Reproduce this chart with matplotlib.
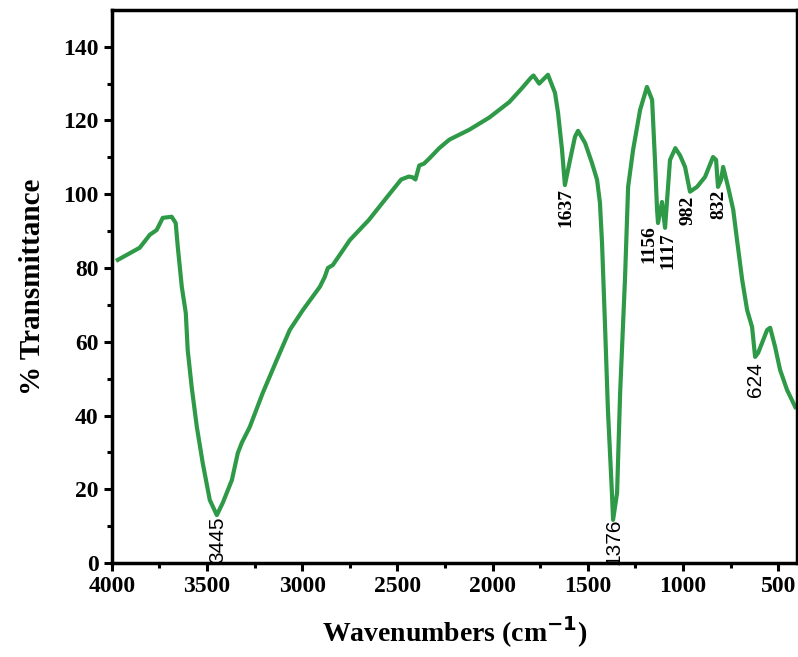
import matplotlib.pyplot as plt

# FTIR spectrum
wavenumber = [3968, 3853, 3800, 3764, 3732, 3685, 3664, 3653, 3632, 3611, 3601,
              3580, 3553, 3522, 3485, 3448, 3417, 3369, 3338, 3317, 3275, 3207,
              3133, 3065, 2996, 2907, 2881, 2865, 2839, 2749, 2650, 2550, 2480,
              2440, 2420, 2405, 2385, 2360, 2330, 2280, 2227, 2122, 2017, 1912,
              1850, 1800, 1785, 1755, 1740, 1709, 1672, 1656, 1635, 1620, 1593,
              1567, 1551, 1514, 1478, 1451, 1436, 1425, 1409, 1394, 1373, 1367,
              1346, 1330, 1304, 1288, 1262, 1225, 1189, 1162, 1147, 1136, 1131,
              1110, 1094, 1068, 1040, 1015, 989, 963, 926, 884, 842, 826,
              816, 800, 789, 763, 736, 716, 689, 663, 637, 621, 605,
              558, 542, 516, 490, 453, 410]
transmittance = [82.2, 85.5, 89.0, 90.3, 93.6, 93.9, 92.2, 85.7, 74.9, 67.8, 57.8,
                 47.7, 36.9, 27.1, 17.1, 13.0, 16.3, 22.5, 29.8, 32.6, 36.9, 46.1,
                 55.1, 63.2, 68.6, 74.9, 77.6, 80.0, 80.8, 87.6, 93.0, 99.5, 104.0,
                 104.8, 104.6, 104.0, 107.8, 108.3, 109.8, 112.5, 114.8, 117.5, 120.8, 125.0,
                 128.5, 131.5, 132.2, 130.0, 130.8, 132.4, 127.5, 122.1, 112.0, 102.5, 109.3,
                 115.6, 117.2, 113.9, 108.5, 103.9, 97.7, 86.8, 64.0, 41.5, 19.0, 11.7,
                 19.0, 46.1, 77.6, 102.0, 112.0, 122.9, 129.1, 125.6, 109.3, 95.8, 92.2,
                 97.9, 90.9, 109.3, 112.5, 110.5, 107.4, 100.7, 102.0, 104.7, 110.1, 109.3,
                 102.0, 103.9, 107.4, 102.0, 95.8, 87.6, 76.8, 68.6, 64.0, 55.9, 57.0,
                 63.2, 63.8, 58.6, 52.4, 46.9, 42.3]

# peak labels: text, x, y of text top
peaks_serif = [("1637", 1614, 101.7), ("1156", 1180, 91.7), ("1117", 1080, 89.8),
               ("982", 973, 99.5), ("832", 810, 101.2)]
peaks_sans = [("3445", 3443, 12.7), ("1376", 1362, 12.0), ("624", 621, 54.5)]

plt.rcParams['font.family'] = 'Liberation Serif'
plt.rcParams['font.weight'] = 'bold'

fig = plt.figure(figsize=(7.98, 6.57), dpi=100)
ax = fig.add_axes([0.140, 0.143, 0.859, 0.842])

ax.plot(wavenumber, transmittance, color='#2e9a48', linewidth=3.0)

for txt, x, y in peaks_serif:
    ax.text(x, y, txt, rotation=90, ha='center', va='top', fontsize=14, fontweight='bold')
for txt, x, y in peaks_sans:
    ax.text(x, y, txt, rotation=90, ha='center', va='top', fontsize=15,
            family='Liberation Sans', fontweight='normal', clip_on=False)

ax.set_xlim(4000, 400)
ax.set_ylim(0, 150)
ax.set_xticks([4000, 3500, 3000, 2500, 2000, 1500, 1000, 500])
ax.set_xticks(range(3750, 400, -500), minor=True)
ax.set_yticks(range(0, 141, 20))
ax.set_yticks(range(10, 150, 20), minor=True)

ax.tick_params(which='major', direction='out', length=6, width=2.2, labelsize=17)
ax.tick_params(which='minor', direction='out', length=3.5, width=2.2)
for s in ax.spines.values():
    s.set_linewidth(2.5)

ax.set_xlabel('Wavenumbers (cm$^{\\mathbf{-1}}$)', fontsize=20, fontweight='bold', labelpad=12)
ax.set_ylabel('% Transmittance', fontsize=21, fontweight='bold', labelpad=12)

fig.savefig('out.png', dpi=100)
